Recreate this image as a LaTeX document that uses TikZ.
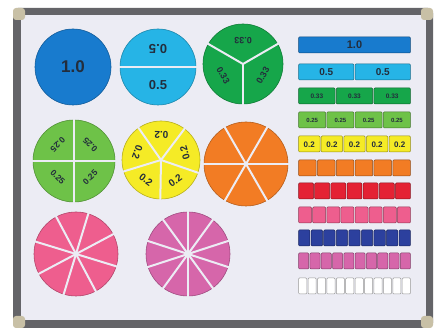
\documentclass[tikz,border=0pt]{standalone}
\usepackage{fontspec}
\setmainfont{Liberation Sans}
\definecolor{boardbg}{RGB}{236,236,244}
\definecolor{framegray}{RGB}{100,100,104}
\definecolor{capbeige}{RGB}{200,192,166}
\definecolor{oneblue}{RGB}{24,123,206}
\definecolor{halfblue}{RGB}{38,180,230}
\definecolor{thirdgreen}{RGB}{22,166,74}
\definecolor{quartgreen}{RGB}{110,194,72}
\definecolor{fifthyellow}{RGB}{245,235,38}
\definecolor{sixthorange}{RGB}{242,124,36}
\definecolor{seventhred}{RGB}{228,34,52}
\definecolor{eighthpink}{RGB}{238,94,142}
\definecolor{ninthblue}{RGB}{44,64,158}
\definecolor{tenthmagenta}{RGB}{214,102,170}
\definecolor{labeldark}{RGB}{35,45,60}
\tikzset{
  gap/.style={boardbg, line width=2pt},
  piece/.style={draw=#1!75!black, fill=#1, line width=0.6pt},
  seg/.style={draw=#1!60!black, fill=#1, line width=0.5pt, rounded corners=1pt},
  lab/.style={text=labeldark, inner sep=0pt,
    font=\bfseries\fontsize{#1}{#1}\selectfont}
}
\begin{document}
\begin{tikzpicture}[x=1pt,y=1pt]
  \useasboundingbox (0,0) rectangle (439,329);
  % board and frame
  \fill[framegray, rounded corners=5pt] (13,1) rectangle (433,321);
  \fill[boardbg] (21,9) rectangle (426,314);
  \foreach \x/\y in {13/309,421/309,13/1,421/1}
      \fill[capbeige, rounded corners=3pt] (\x,\y) rectangle ++(12,12);
  % whole disc
  \draw[piece=oneblue] (73,262) circle (38);
  \node[lab=17] (whole) at (73,262) {1.0};
  % cut discs: centre/radius/colour/pieces/first cut
  \foreach \cx/\cy/\r/\col/\n/\off in {158/262/38/halfblue/2/0,
      243/265/40/thirdgreen/3/30, 74/168/41/quartgreen/4/0,
      161/169/39/fifthyellow/5/125, 246/165/42/sixthorange/6/0,
      76/75/42/eighthpink/8/28, 188/75/42/tenthmagenta/10/18}
  {
    \draw[piece=\col] (\cx,\cy) circle (\r);
    \foreach \k in {1,...,\n}
        \draw[gap] (\cx,\cy) -- ++({\off+360*\k/\n}:{\r+1});
  }
  % disc labels
  \node[lab=13, rotate=180] (halftop) at (158,280) {0.5};
  \node[lab=13] (halfbot) at (158,244) {0.5};
  \foreach \a [evaluate=\a as \rr using \a+90] in {90,210,330}
      \node[lab=9, rotate=\rr] (third\a) at ([shift={(\a:23)}]243,265) {0.33};
  \foreach \a [evaluate=\a as \rr using \a+90] in {45,135,225,315}
      \node[lab=8.5, rotate=\rr] (quart\a) at ([shift={(\a:23)}]74,168) {0.25};
  \foreach \a [evaluate=\a as \rr using \a+90] in {89,17,305,233,161}
      \node[lab=10, rotate=\rr] (fifth\a) at ([shift={(\a:25)}]161,169) {0.2};
  % fraction strips: top/pieces/colour
  \foreach \yt/\n/\col in {292/1/oneblue, 265/2/halfblue, 241/3/thirdgreen,
      217/4/quartgreen, 193/5/fifthyellow, 169/6/sixthorange,
      146/7/seventhred, 122/8/eighthpink, 99/9/ninthblue,
      76/10/tenthmagenta, 51/12/white}
  {
    \pgfmathsetmacro{\w}{113/\n}
    \foreach \k in {1,...,\n}
        \draw[seg=\col] ({298+(\k-1)*\w+0.6},\yt) rectangle ({298+\k*\w-0.6},{\yt-16});
  }
  % strip labels
  \node[lab=11] (bone) at (354.5,284) {1.0};
  \foreach \k in {1,2}
      \node[lab=10] (bhalf\k) at ({298+(\k-0.5)*56.5},257) {0.5};
  \foreach \k in {1,2,3}
      \node[lab=6.5] (bthird\k) at ({298+(\k-0.5)*113/3},233) {0.33};
  \foreach \k in {1,...,4}
      \node[lab=6] (bquart\k) at ({298+(\k-0.5)*28.25},209) {0.25};
  \foreach \k in {1,...,5}
      \node[lab=8] (bfifth\k) at ({298+(\k-0.5)*22.6},184.5) {0.2};
\end{tikzpicture}
\end{document}
